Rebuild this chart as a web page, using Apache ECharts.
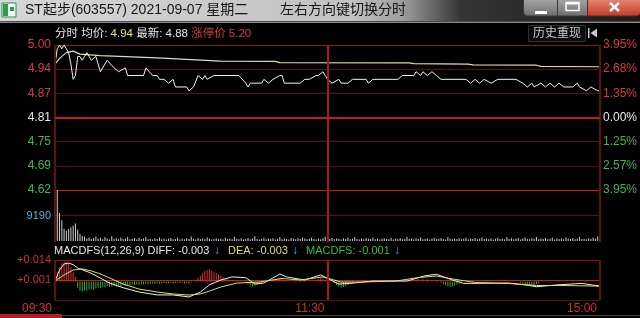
<!DOCTYPE html>
<html><head><meta charset="utf-8">
<script src="https://cdn.jsdelivr.net/npm/echarts@6/dist/echarts.min.js"></script>
<style>html,body{margin:0;padding:0;background:#000;}#c{width:640px;height:318px;}</style>
</head><body><div id="c"></div>
<script>
// ---------- data ----------
const timeLabels = ['09:30', '11:30', '15:00'];
const timeTicks = [0, 120, 240];
const priceTickLabels = ['4.62', '4.69', '4.75', '4.81', '4.87', '4.94', '5.00'];
const pctTickLabels = ['3.95%', '2.57%', '1.25%', '0.00%', '1.35%', '2.68%', '3.95%'];
const volTickLabels = ['', '9190', ''];
const macdTickLabels = ['', '+0.001', '+0.014'];
const prevClose = 4.81;

const priceLine = [[0,4.95],[1,4.99],[2,5.00],[3,4.99],[4,5.00],[5,4.99],[6,4.98],[7,4.95],[8,4.91],[9,4.92],[10,4.97],[11,4.97],[12,4.96],[13,4.97],[14,4.98],[15,4.97],[16,4.96],[18,4.97],[20,4.93],[23,4.96],[26,4.94],[28,4.93],[31,4.94],[32,4.92],[39,4.92],[40,4.94],[43,4.92],[45,4.92],[46,4.91],[48,4.91],[50,4.90],[52,4.91],[53,4.89],[58,4.89],[59,4.88],[61,4.89],[63,4.92],[65,4.91],[66,4.92],[67,4.91],[70,4.92],[81,4.92],[84,4.90],[85,4.89],[86,4.90],[91,4.90],[92,4.91],[94,4.90],[96,4.91],[99,4.92],[100,4.92],[101,4.90],[108,4.90],[110,4.91],[112,4.91],[115,4.92],[116,4.92],[118,4.93],[119,4.92],[120,4.91],[122,4.90],[125,4.91],[126,4.90],[129,4.90],[131,4.91],[137,4.91],[138,4.90],[140,4.91],[151,4.91],[153,4.92],[158,4.92],[159,4.93],[161,4.92],[162,4.93],[164,4.92],[166,4.93],[168,4.92],[170,4.91],[181,4.91],[183,4.90],[185,4.91],[187,4.90],[189,4.91],[192,4.90],[195,4.91],[203,4.91],[206,4.90],[208,4.89],[210,4.90],[211,4.89],[214,4.90],[216,4.89],[218,4.90],[220,4.89],[222,4.90],[224,4.89],[228,4.89],[230,4.90],[231,4.89],[234,4.88],[236,4.89],[239,4.88],[240,4.88]];

const avgLine = [[0,4.95],[2,4.965],[5,4.980],[8,4.984],[11,4.976],[20,4.972],[45,4.966],[73,4.958],[97,4.957],[99,4.954],[156,4.953],[158,4.951],[182,4.950],[184,4.948],[212,4.947],[214,4.944],[240,4.943]];

const volumes = [
8500,18300,10100,7500,4400,3700,4300,4900,5600,6300,
4100,2500,1800,1500,900,1300,700,1100,1600,800,
1200,600,1400,900,500,1700,800,1000,600,1300,
700,900,1500,600,800,1100,500,1200,700,900,
1400,600,800,500,1000,700,1300,600,900,500,
800,1100,600,700,1200,500,900,600,1000,700,
1600,800,500,1100,700,900,600,1300,800,500,
700,1000,600,800,500,1200,700,900,600,1500,
800,600,1000,500,700,1100,600,900,1700,700,
500,800,1200,600,900,700,1000,500,800,1400,
600,900,700,500,1100,800,600,1000,700,1300,
900,600,800,1200,700,500,900,600,1000,1500,
1800,700,1100,600,900,800,500,1000,700,1200,
600,800,1400,700,500,900,600,1100,800,700,
1300,600,900,500,800,1000,700,600,1200,500,
900,700,1100,600,800,1500,700,900,600,1000,
800,1300,600,700,1000,500,900,1200,600,800,
1100,700,500,1400,800,600,900,700,1000,600,
800,1200,500,900,700,1100,600,800,1300,700,
900,600,1000,500,800,1200,700,900,600,1400,
700,1000,600,800,1100,500,900,1300,700,600,
1000,800,1500,600,900,700,1100,600,800,1200,
500,900,700,1000,600,1300,800,700,1100,600,
900,1400,700,800,600,1000,700,1200,900,1600,2600
];

const diffLine = [[0,0.0004],[2,0.0075],[4,0.0114],[6,0.012],[8,0.011],[10,0.0088],[15,0.006],[20,0.0023],[24,-0.001],[30,-0.004],[37,-0.0068],[45,-0.0087],[52,-0.0087],[59,-0.010],[64,-0.0068],[68,-0.0022],[73,0.001],[78,0.003],[84,0.0025],[88,-0.0016],[92,-0.001],[99,0.0049],[102,0.003],[110,0.001],[117,0.0043],[120,0.002],[125,-0.0016],[130,-0.0012],[140,0.0003],[155,0.0003],[163,0.0038],[168,0.0047],[175,0.001],[180,-0.0012],[200,-0.001],[208,-0.0023],[212,-0.0034],[220,-0.0023],[232,-0.0012],[240,-0.003]];

const deaLine = [[0,0.0003],[4,0.0043],[8,0.0075],[12,0.0082],[16,0.0069],[20,0.0049],[25,0.0017],[30,-0.0016],[37,-0.0049],[45,-0.0068],[52,-0.0081],[59,-0.0088],[64,-0.0081],[68,-0.0062],[73,-0.0036],[80,-0.001],[90,-0.0003],[100,0.002],[108,0.001],[118,0.003],[126,-0.0003],[135,-0.0003],[150,0.0003],[160,0.0026],[168,0.0036],[175,0.0017],[185,-0.0006],[200,-0.0013],[212,-0.0026],[225,-0.0026],[240,-0.003]];

const macdBars = [[0,0.002],[1,0.006],[2,0.0095],[3,0.012],[4,0.013],[5,0.0128],[6,0.012],[7,0.0095],[8,0.006],[9,0.003],
[10,-0.004],[11,-0.0062],[12,-0.0065],[13,-0.0058],[14,-0.006],[15,-0.0052],[16,-0.0048],[17,-0.0055],[18,-0.0045],[19,-0.004],[20,-0.0042],[21,-0.0035],[22,-0.0038],[23,-0.003],[24,-0.0036],[25,-0.0032],[26,-0.0028],[27,-0.0034],[28,-0.0026],[29,-0.003],[30,-0.0024],[31,-0.0028],[32,-0.0022],[33,-0.0026],[34,-0.002],[35,-0.0024],[36,-0.0018],[37,-0.0022],[38,-0.0016],[39,-0.002],[40,-0.0014],[41,-0.0018],[42,-0.0015],[43,-0.0012],[44,-0.0016],[45,-0.001],[46,-0.0014],[47,-0.0012],[48,-0.0009],[49,-0.0013],[50,-0.0011],[51,-0.0008],[52,-0.0012],[53,-0.0009],[54,-0.0007],[55,-0.001],[56,-0.0008],[57,-0.0012],[58,-0.0009],[59,-0.0014],[60,-0.0006],
[62,0.0012],[63,0.0025],[64,0.004],[65,0.0055],[66,0.0068],[67,0.0075],[68,0.0078],[69,0.007],[70,0.0062],[71,0.0055],[72,0.0048],[73,0.004],[74,0.003],[75,0.0022],[76,0.0015],[77,0.001],[78,0.0008],[79,0.0005],[80,0.0004],
[84,-0.0008],[85,-0.0018],[86,-0.0025],[87,-0.003],[88,-0.0028],[89,-0.0022],[90,-0.0015],[91,-0.0008],
[96,0.0006],[97,0.0014],[98,0.0022],[99,0.0026],[100,0.002],[101,0.0012],[102,0.0005],[106,0.0003],[108,-0.0004],[110,0.0004],
[115,0.001],[116,0.0018],[117,0.0022],[118,0.0016],[119,0.0008],
[123,-0.0012],[124,-0.0024],[125,-0.0032],[126,-0.0038],[127,-0.0035],[128,-0.003],[129,-0.0022],[130,-0.0015],[131,-0.0008],
[136,0.0003],[140,0.0004],[145,-0.0003],[150,0.0003],
[157,0.0006],[159,0.0012],[160,0.0016],[162,0.0018],[164,0.0014],[166,0.001],[168,0.0006],
[170,-0.0008],[171,-0.0016],[172,-0.0024],[173,-0.003],[174,-0.0034],[175,-0.0031],[176,-0.0026],[177,-0.002],[178,-0.0014],[179,-0.0008],
[184,0.0003],[190,-0.0003],[196,0.0003],
[205,-0.0008],[206,-0.0014],[207,-0.002],[208,-0.0026],[209,-0.003],[210,-0.0028],[211,-0.0022],[212,-0.0016],[213,-0.001],
[218,0.0003],[222,0.0004],[228,-0.0004],[234,0.0003],[240,-0.001]];

// ---------- chart ----------
const FONT = '"Liberation Sans", "Noto Sans CJK SC", "DejaVu Sans", sans-serif';
const PMIN = 4.62, PMAX = 5.00, PINT = (PMAX - PMIN) / 6;
const VMAX = 18380, VINT = 9190;
const MMIN = -0.012, MMAX = 0.014, MINT = 0.013;
const RED = '#d83a3a', GREEN = '#46b446', WHITE = '#e8e8e8';
const DARK = '#561010', BRIGHT = '#c01c1c', MID = '#8a1616';

function idx(v, min, step) { return Math.round((v - min) / step); }
const priceRich = {
  g: {color: GREEN, fontSize: 12, fontFamily: FONT},
  w: {color: WHITE, fontSize: 12, fontFamily: FONT},
  r: {color: RED, fontSize: 12, fontFamily: FONT}
};
function cls(k) { return k < 3 ? 'g' : (k === 3 ? 'w' : 'r'); }

const xBase = {type: 'value', min: 0, max: 240, interval: 120, axisLine: {show: false}, axisTick: {show: false}, axisLabel: {show: false}, splitLine: {show: false}};

const vLines = {silent: true, symbol: 'none', label: {show: false}, animation: false,
  data: [
    {xAxis: timeTicks[0], lineStyle: {color: '#5e1212', width: 2, type: 'solid'}},
    {xAxis: timeTicks[1], lineStyle: {color: '#a81a1a', width: 2, type: 'solid'}},
    {xAxis: timeTicks[2], lineStyle: {color: '#5e1212', width: 2, type: 'solid'}}
  ]};

const chart = echarts.init(document.getElementById('c'), null, {renderer: 'canvas'});
chart.setOption({
  backgroundColor: '#000',
  animation: false,
  grid: [
    {left: 55, width: 545, top: 45, height: 145},
    {left: 55, width: 545, top: 190, height: 51},
    {left: 55, width: 545, top: 260, height: 40},
    {left: 55, width: 545, top: 45, height: 197}
  ],
  xAxis: [
    Object.assign({}, xBase, {gridIndex: 0}),
    Object.assign({}, xBase, {gridIndex: 1}),
    Object.assign({}, xBase, {gridIndex: 2, axisLabel: {show: true, color: '#c83434', fontSize: 12, fontFamily: FONT, align: 'right', margin: 3, padding: [0, 3, 0, 0],
      formatter: v => timeLabels[timeTicks.indexOf(Math.round(v))] || ''}}),
    Object.assign({}, xBase, {gridIndex: 3})
  ],
  yAxis: [
    {gridIndex: 0, type: 'value', min: PMIN, max: PMAX, interval: PINT, position: 'left',
      axisLine: {show: false}, axisTick: {show: false},
      axisLabel: {margin: 4, rich: priceRich, formatter: v => { const k = idx(v, PMIN, PINT); return '{' + cls(k) + '|' + priceTickLabels[k] + '}'; }},
      splitLine: {show: true, lineStyle: {color: [BRIGHT, DARK, DARK, BRIGHT, DARK, DARK, MID], width: 1}}},
    {gridIndex: 0, type: 'value', min: PMIN, max: PMAX, interval: PINT, position: 'right',
      axisLine: {show: false}, axisTick: {show: false}, splitLine: {show: false},
      axisLabel: {margin: 3, rich: priceRich, formatter: v => { const k = idx(v, PMIN, PINT); return '{' + cls(k) + '|' + pctTickLabels[k] + '}'; }}},
    {gridIndex: 1, type: 'value', min: 0, max: VMAX, interval: VINT,
      axisLine: {show: false}, axisTick: {show: false},
      axisLabel: {margin: 4, color: '#5aaee0', fontSize: 11, fontFamily: FONT, formatter: v => volTickLabels[idx(v, 0, VINT)] || ''},
      splitLine: {show: true, lineStyle: {color: ['rgba(0,0,0,0)', DARK, 'rgba(0,0,0,0)']}}},
    {gridIndex: 2, type: 'value', min: MMIN, max: MMAX, interval: MINT,
      axisLine: {show: false}, axisTick: {show: false},
      axisLabel: {margin: 4, color: '#c83434', fontSize: 11, fontFamily: FONT, formatter: v => macdTickLabels[idx(v, MMIN, MINT)] || ''},
      splitLine: {show: true, lineStyle: {color: [DARK, BRIGHT, MID]}}},
    {gridIndex: 3, type: 'value', show: false, min: 0, max: 1}
  ],
  series: [
    {type: 'line', xAxisIndex: 3, yAxisIndex: 4, data: [], symbol: 'none', z: 1, markLine: vLines},
    {type: 'line', xAxisIndex: 2, yAxisIndex: 3, data: [], symbol: 'none', z: 1, markLine: vLines},
    {type: 'line', xAxisIndex: 0, yAxisIndex: 0, data: avgLine, symbol: 'none', lineStyle: {color: '#ddd9b6', width: 1.2}, z: 3,
      markLine: {silent: true, symbol: 'none', label: {show: false}, lineStyle: {color: BRIGHT, width: 2, type: 'solid'}, data: [{yAxis: prevClose}]}},
    {type: 'line', xAxisIndex: 0, yAxisIndex: 0, data: priceLine, symbol: 'none', lineStyle: {color: '#f2f2f2', width: 1}, z: 4},
    {type: 'bar', xAxisIndex: 1, yAxisIndex: 2, data: volumes.map((v, i) => [i, v]), barWidth: 1, itemStyle: {color: '#cfcfcf'}},
    {type: 'bar', xAxisIndex: 2, yAxisIndex: 3, data: macdBars, barWidth: 1,
      itemStyle: {color: p => p.value[1] >= 0 ? '#d83030' : '#3aa83a'}},
    {type: 'line', xAxisIndex: 2, yAxisIndex: 3, data: diffLine, symbol: 'none', lineStyle: {color: '#eeeeee', width: 1}, z: 4},
    {type: 'line', xAxisIndex: 2, yAxisIndex: 3, data: deaLine, symbol: 'none', lineStyle: {color: '#e2e05a', width: 1}, z: 4}
  ],
  graphic: [
    {type: 'rect', shape: {x: 0, y: 0, width: 640, height: 21}, style: {fill: new echarts.graphic.LinearGradient(0, 0, 1, 0, [
      {offset: 0, color: '#d6d6d6'}, {offset: 0.55, color: '#c2c2c2'}, {offset: 0.63, color: '#9c9c9c'}, {offset: 0.72, color: '#353535'}, {offset: 1, color: '#1c1c1c'}])}},
    {type: 'rect', shape: {x: 0, y: 21, width: 640, height: 1}, style: {fill: '#4a4a4a'}},
    {type: 'rect', shape: {x: 0, y: 22, width: 640, height: 1}, style: {fill: '#8a8a8a'}},
    {type: 'rect', shape: {x: 2, y: 3, width: 14, height: 14}, style: {fill: '#f4f4f4', stroke: '#2f8f4f', lineWidth: 1}},
    {type: 'rect', shape: {x: 3, y: 4, width: 5, height: 12}, style: {fill: '#2f9a55'}},
    {type: 'rect', shape: {x: 10, y: 7, width: 4, height: 4}, style: {fill: '#2f9a55'}},
    {type: 'text', style: {text: 'ST起步(603557) 2021-09-07 星期二', x: 25, y: 10, fill: '#151515', font: '14px ' + FONT, textVerticalAlign: 'middle', verticalAlign: 'middle'}},
    {type: 'text', style: {text: '左右方向键切换分时', x: 280, y: 10, fill: '#151515', font: '14px ' + FONT, textVerticalAlign: 'middle', verticalAlign: 'middle'}},
    {type: 'rect', shape: {x: 523.5, y: -1, width: 34, height: 17, r: [0, 0, 0, 4]}, style: {fill: new echarts.graphic.LinearGradient(0, 0, 0, 1, [{offset: 0, color: '#a8a8a8'}, {offset: 1, color: '#6c6c6c'}]), stroke: '#3a3a3a'}},
    {type: 'rect', shape: {x: 557.5, y: -1, width: 30, height: 17}, style: {fill: new echarts.graphic.LinearGradient(0, 0, 0, 1, [{offset: 0, color: '#a8a8a8'}, {offset: 1, color: '#6c6c6c'}]), stroke: '#3a3a3a'}},
    {type: 'rect', shape: {x: 587.5, y: -1, width: 53, height: 17, r: [0, 0, 4, 0]}, style: {fill: new echarts.graphic.LinearGradient(0, 0, 0, 1, [{offset: 0, color: '#e58a78'}, {offset: 1, color: '#c33a26'}]), stroke: '#4a2a2a'}},
    {type: 'rect', shape: {x: 535, y: 11, width: 12, height: 3}, style: {fill: '#ffffff'}},
    {type: 'rect', shape: {x: 566, y: 2.5, width: 13, height: 8}, style: {fill: 'none', stroke: '#ffffff', lineWidth: 1.5}},
    {type: 'rect', shape: {x: 566, y: 2.5, width: 13, height: 2}, style: {fill: '#ffffff'}},
    {type: 'line', shape: {x1: 610, y1: 3, x2: 619, y2: 11}, style: {stroke: '#ffffff', lineWidth: 2.5}},
    {type: 'line', shape: {x1: 619, y1: 3, x2: 610, y2: 11}, style: {stroke: '#ffffff', lineWidth: 2.5}},
    {type: 'text', style: {text: '{w|分时 均价: }{y|4.94}{w| 最新: 4.88 }{r|涨停价 5.20}', x: 55, y: 34, verticalAlign: 'middle', textVerticalAlign: 'middle',
      rich: {w: {fill: '#e6e6e6', color: '#e6e6e6', fontSize: 11.5, fontFamily: FONT}, y: {fill: '#e8e070', color: '#e8e070', fontSize: 11.5, fontFamily: FONT}, r: {fill: RED, color: RED, fontSize: 11.5, fontFamily: FONT}}}},
    {type: 'rect', shape: {x: 528.5, y: 25.5, width: 57, height: 16}, style: {fill: '#0c0c0c', stroke: '#303030'}},
    {type: 'text', style: {text: '历史重现', x: 557, y: 34, fill: '#c8c8c8', font: '12px ' + FONT, align: 'center', textAlign: 'center', verticalAlign: 'middle', textVerticalAlign: 'middle'}},
    {type: 'rect', shape: {x: 588, y: 28, width: 1.5, height: 10}, style: {fill: '#c8c8c8'}},
    {type: 'polygon', shape: {points: [[590.5, 33], [597, 28.5], [597, 37.5]]}, style: {fill: '#c8c8c8'}},
    {type: 'text', style: {text: 'MACDFS(12,26,9) DIFF: -0.003', x: 54, y: 251, fill: '#e6e6e6', font: '11px ' + FONT, verticalAlign: 'middle', textVerticalAlign: 'middle'}},
    {type: 'text', style: {text: '↓', x: 214, y: 251, fill: '#34b4ec', font: 'bold 12px ' + FONT, verticalAlign: 'middle', textVerticalAlign: 'middle'}},
    {type: 'text', style: {text: 'DEA: -0.003', x: 228, y: 251, fill: '#e2de6a', font: '11px ' + FONT, verticalAlign: 'middle', textVerticalAlign: 'middle'}},
    {type: 'text', style: {text: '↓', x: 292, y: 251, fill: '#34b4ec', font: 'bold 12px ' + FONT, verticalAlign: 'middle', textVerticalAlign: 'middle'}},
    {type: 'text', style: {text: 'MACDFS: -0.001', x: 306, y: 251, fill: '#3cbc3c', font: '11px ' + FONT, verticalAlign: 'middle', textVerticalAlign: 'middle'}},
    {type: 'text', style: {text: '↓', x: 394, y: 251, fill: '#34b4ec', font: 'bold 12px ' + FONT, verticalAlign: 'middle', textVerticalAlign: 'middle'}},
    {type: 'rect', shape: {x: 0, y: 314, width: 62, height: 4}, style: {fill: '#a82020'}},
    {type: 'rect', shape: {x: 62, y: 315, width: 578, height: 1}, style: {fill: '#444444'}}
  ]
});
</script></body></html>
